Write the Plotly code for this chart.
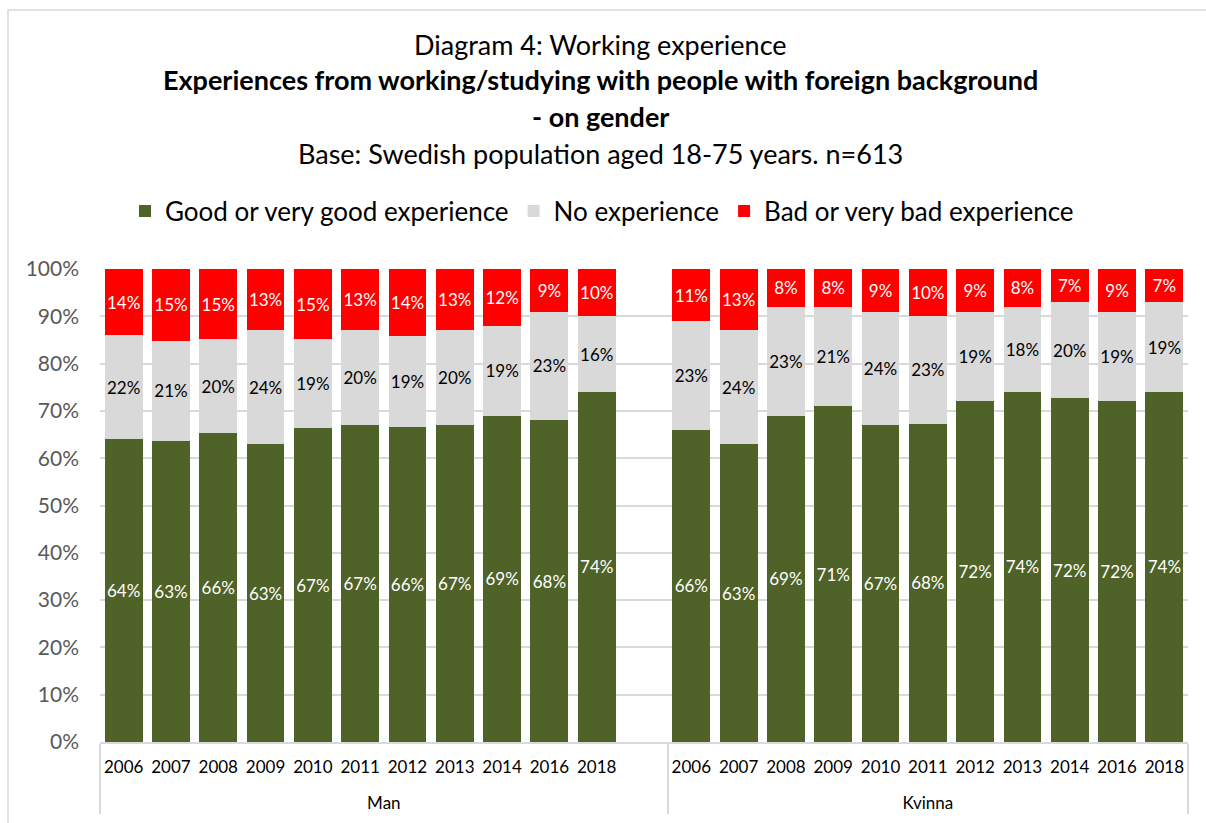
import plotly.graph_objects as go

# Survey years per gender group
years = ["2006", "2007", "2008", "2009", "2010", "2011", "2012", "2013", "2014", "2016", "2018"]
groups = ["Man", "Kvinna"]

# Shares (%) per answer category
man_good = [64, 63, 66, 63, 67, 67, 66, 67, 69, 68, 74]
man_none = [22, 21, 20, 24, 19, 20, 19, 20, 19, 23, 16]
man_bad = [14, 15, 15, 13, 15, 13, 14, 13, 12, 9, 10]

kvinna_good = [66, 63, 69, 71, 67, 68, 72, 74, 72, 72, 74]
kvinna_none = [23, 24, 23, 21, 24, 23, 19, 18, 20, 19, 19]
kvinna_bad = [11, 13, 8, 8, 9, 10, 9, 8, 7, 9, 7]

series_names = ["Good or very good experience", "No experience", "Bad or very bad experience"]
colors = ["#4F6228", "#D9D9D9", "#FF0000"]
text_colors = ["#FFFFFF", "#000000", "#FFFFFF"]

FONT = "Lato"

# Two-level category axis; a blank slot separates the two groups.
# Group labels get a leading line break so they sit lower under the years.
group_labels = ["<br>" + g for g in groups]
outer = [group_labels[0]] * (len(years) + 1) + [group_labels[1]] * len(years)
inner = years + [" "] + years

def combine(m, k):
    return m + [None] + k

series_values = [
    combine(man_good, kvinna_good),
    combine(man_none, kvinna_none),
    combine(man_bad, kvinna_bad),
]

fig = go.Figure()
for name, vals, col, tcol in zip(series_names, series_values, colors, text_colors):
    fig.add_trace(go.Bar(
        x=[outer, inner],
        y=vals,
        name=name,
        marker=dict(color=col, line=dict(width=0)),
        text=[f"{v}%" if v is not None else "" for v in vals],
        textposition="inside",
        insidetextanchor="middle",
        textangle=0,
        constraintext="none",
        textfont=dict(family=FONT, size=17, color=tcol),
        hoverinfo="skip",
    ))

# Pixel geometry of the plotting area (used to place title lines and the frame)
L, R, T, B = 100, 18, 269, 81
W, H = 1206, 823
pw, ph = W - L - R, H - T - B

def px_x(x):
    return (x - L) / pw

def px_y(y):
    return (H - B - y) / ph

title_lines = [
    ("Diagram 4: Working experience", 45, False),
    ("Experiences from working/studying with people with foreign background", 80, True),
    ("- on gender", 117, True),
    ("Base: Swedish population aged 18-75 years. n=613", 153, False),
]
for txt, yc, bold in title_lines:
    fig.add_annotation(
        text=f"<b>{txt}</b>" if bold else txt,
        xref="paper", yref="paper",
        x=px_x(600), y=px_y(yc),
        xanchor="center", yanchor="middle",
        showarrow=False,
        font=dict(family=FONT, size=27, color="#000000"),
    )

# Outer chart frame
fig.add_shape(
    type="rect", xref="paper", yref="paper",
    x0=px_x(8), x1=px_x(1260), y0=px_y(900), y1=px_y(10),
    line=dict(color="#D9D9D9", width=1.5), fillcolor="rgba(0,0,0,0)", layer="below",
)

fig.update_layout(
    width=W, height=H,
    margin=dict(l=L, r=R, t=T, b=B, pad=0, autoexpand=False),
    barmode="stack",
    barnorm="percent",
    bargap=0.2,
    plot_bgcolor="#FFFFFF",
    paper_bgcolor="#FFFFFF",
    font=dict(family=FONT, color="#000000"),
    showlegend=True,
    legend=dict(
        orientation="h",
        x=px_x(602), y=px_y(211),
        xanchor="center", yanchor="middle",
        font=dict(family=FONT, size=26, color="#000000"),
        traceorder="normal",
        itemwidth=30,
        bgcolor="rgba(0,0,0,0)",
    ),
    xaxis=dict(
        type="multicategory",
        automargin=False,
        showline=True, linecolor="#D9D9D9", linewidth=1.5,
        showdividers=True, dividercolor="#D9D9D9", dividerwidth=1.5,
        tickfont=dict(family=FONT, size=17, color="#000000"),
        tickangle=0,
        ticks="",
        ticklabelstandoff=9,
        showgrid=False,
    ),
    yaxis=dict(
        range=[0, 100],
        dtick=10,
        ticksuffix="%",
        automargin=False,
        showgrid=True, gridcolor="#D9D9D9", gridwidth=1.5,
        zeroline=False,
        showline=False,
        tickfont=dict(family=FONT, size=21, color="#595959"),
        ticks="",
        ticklabelstandoff=20,
    ),
)

fig.write_html("out.html")
